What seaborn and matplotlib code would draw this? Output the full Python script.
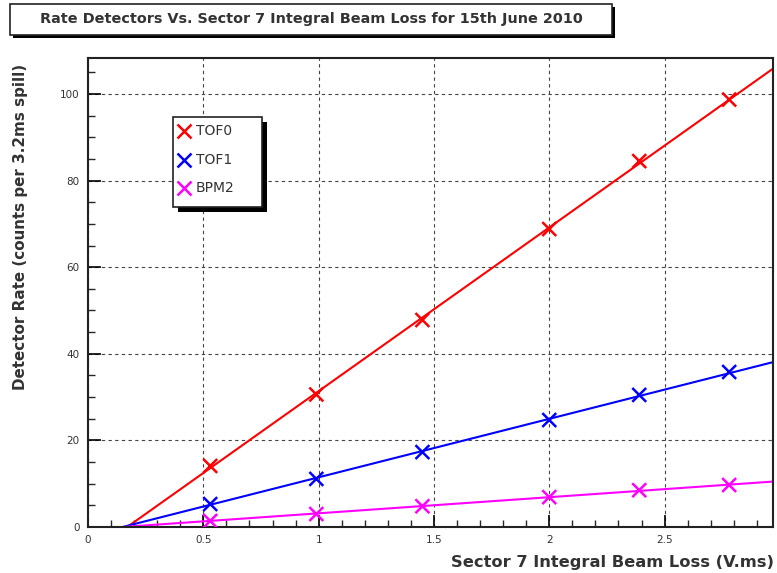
import matplotlib
matplotlib.use('Agg')
import matplotlib.pyplot as plt
from matplotlib.patches import Rectangle
from matplotlib.lines import Line2D
from matplotlib.ticker import MultipleLocator, FuncFormatter
import numpy as np
import pandas as pd
import seaborn as sns

# beam loss points (V.ms) and detector rates
beam_loss = [0.53, 0.99, 1.45, 2.00, 2.39, 2.78]
tof0 = [14.1, 30.6, 47.8, 68.8, 84.5, 98.7]
tof1 = [5.3, 11.1, 17.3, 24.7, 30.5, 35.8]
bpm2 = [1.4, 3.0, 4.8, 6.9, 8.5, 9.7]
detectors = ['TOF0', 'TOF1', 'BPM2']
colours = ['#ff0000', '#0000ff', '#ff00ff']

# straight line fits: x intercept and slope
fit_x0 = [0.17, 0.15, 0.15]
fit_slope = [37.8, 13.5, 3.72]

df = pd.DataFrame({'loss': beam_loss * 3,
                   'rate': tof0 + tof1 + bpm2,
                   'det': np.repeat(detectors, len(beam_loss))})

sns.set_style('ticks')
plt.rcParams['font.family'] = ['DejaVu Sans']

fig = plt.figure(figsize=(7.77, 5.73), dpi=100)
ax = fig.add_axes([88 / 777, 46 / 573, 685 / 777, 469 / 573])

for det, c, x0, m in zip(detectors, colours, fit_x0, fit_slope):
    ax.axline((x0, 0), slope=m, color=c, lw=1.5, zorder=2)

sns.scatterplot(data=df, x='loss', y='rate', hue='det', palette=colours,
                marker='x', s=100, linewidth=1.8, ax=ax, zorder=3, legend=False)

ax.set_xlim(0, 2.97)
ax.set_ylim(0, 108.3)
ax.xaxis.set_major_locator(MultipleLocator(0.5))
ax.xaxis.set_minor_locator(MultipleLocator(0.1))
ax.yaxis.set_major_locator(MultipleLocator(20))
ax.yaxis.set_minor_locator(MultipleLocator(5))
ax.xaxis.set_major_formatter(FuncFormatter(lambda v, p: '%g' % v))
ax.tick_params(which='major', direction='in', length=9, width=1.2, labelsize=7.5,
               colors='black', labelcolor='#333333', pad=6)
ax.tick_params(which='minor', direction='in', length=5, width=1.0)
ax.grid(True, which='major', color='#444444', ls=(0, (3, 3)), lw=0.8)
for sp in ax.spines.values():
    sp.set_linewidth(1.5)
    sp.set_color('#222222')

ax.set_xlabel('')
ax.set_ylabel('')
fig.text(774 / 777, 1 - 562 / 573, 'Sector 7 Integral Beam Loss (V.ms)',
         ha='right', va='center', fontsize=11.7, fontweight='bold', color='#333333')
fig.text(21 / 777, 1 - 64 / 573, 'Detector Rate (counts per 3.2ms spill)',
         ha='center', va='top', rotation=90, fontsize=10.9, fontweight='bold',
         color='#333333')

# title box with shadow
fig.patches.append(Rectangle((13 / 777, 1 - 38 / 573), 602 / 777, 31 / 573,
                             transform=fig.transFigure, fc='black', ec='none'))
fig.patches.append(Rectangle((10 / 777, 1 - 35 / 573), 602 / 777, 31 / 573,
                             transform=fig.transFigure, fc='white', ec='#222222', lw=1.2))
fig.text(311 / 777, 1 - 19 / 573,
         'Rate Detectors Vs. Sector 7 Integral Beam Loss for 15th June 2010',
         ha='center', va='center', fontsize=10.4, fontweight='bold', color='#333333')

# legend box with shadow
fig.patches.append(Rectangle((178 / 777, 1 - 212 / 573), 89 / 777, 90 / 573,
                             transform=fig.transFigure, fc='black', ec='none', zorder=5))
fig.patches.append(Rectangle((173 / 777, 1 - 207 / 573), 89 / 777, 90 / 573,
                             transform=fig.transFigure, fc='white', ec='#222222', lw=1.2,
                             zorder=6))
for i, (det, c) in enumerate(zip(detectors, colours)):
    yy = 1 - (131 + i * 28.5) / 573
    fig.lines.append(Line2D([184 / 777], [yy], transform=fig.transFigure,
                            marker='x', ms=10, mew=1.8, color=c, zorder=7))
    fig.text(196 / 777, yy, det, ha='left', va='center', fontsize=10,
             color='#333333', zorder=7)

fig.savefig('out.png', dpi=100)
